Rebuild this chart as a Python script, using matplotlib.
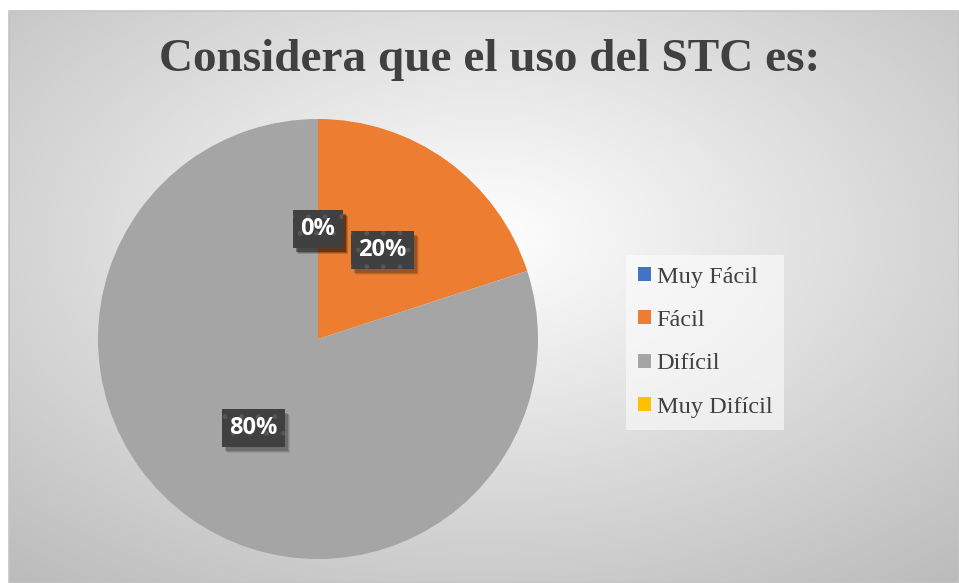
import numpy as np
import matplotlib.pyplot as plt
import matplotlib.transforms as mtransforms
from matplotlib.patches import Rectangle

categorias = ["Muy Fácil", "Fácil", "Difícil", "Muy Difícil"]
porcentajes = [0, 20, 80, 0]
colores = ["#4472C4", "#ED7D31", "#A5A5A5", "#FFC000"]
titulo = "Considera que el uso del STC es:"

W, H = 959, 583
fig = plt.figure(figsize=(W / 100, H / 100), dpi=100)

# fondo con degradado radial
bg = fig.add_axes([0, 0, 1, 1])
bg.set_xlim(0, W)
bg.set_ylim(H, 0)
bg.axis("off")
x0, x1, y0, y1 = 9, 959, 11, 583
xx, yy = np.meshgrid(np.linspace(x0, x1, 400), np.linspace(y0, y1, 250))
cx, cy = (x0 + x1) / 2, (y0 + y1) / 2 - 60
r = np.sqrt(((xx - cx) / ((x1 - x0) / 2)) ** 2 + ((yy - cy) / ((y1 - y0) / 2)) ** 2)
v = np.clip(1 - 0.17 * r, 0, 1)
bg.imshow(np.dstack([v, v, v]), extent=[x0, x1, y1, y0], aspect="auto", zorder=0)
bg.add_patch(Rectangle((x0, y0), x1 - x0, y1 - y0, fill=False, edgecolor="#c4c4c4", lw=1.2, zorder=1))

bg.text(490, 60, titulo, ha="center", va="center", fontsize=34, fontweight="bold",
        family="Liberation Serif", color="#404040")

# pastel
cxp, cyp, rad = 318, 339, 220
ax = fig.add_axes([(cxp - rad) / W, (H - cyp - rad) / H, 2 * rad / W, 2 * rad / H])
wedges, texts, autotexts = ax.pie(porcentajes, colors=colores, startangle=90, counterclock=False,
                                  autopct="%1.0f%%", pctdistance=0.5, radius=1.0)
ax.set_xlim(-1, 1)
ax.set_ylim(-1, 1)
ax.set_aspect("equal")
ax.axis("off")
for t in autotexts:
    t.set_color("white")
    t.set_fontsize(17)
    t.set_fontweight("bold")
    t.set_family("Open Sans")
    t.set_zorder(4)
    t.set_bbox(dict(boxstyle="square,pad=0.3", facecolor="#404040", edgecolor="#575757",
                    lw=0, hatch="."))

# sombras de las etiquetas (rectangulos desplazados)
fig.canvas.draw()
ren = fig.canvas.get_renderer()
for t in autotexts:
    bb = t.get_bbox_patch().get_window_extent(ren)
    for k, a in [(6, 0.08), (5, 0.12), (4, 0.18)]:
        ax.add_artist(Rectangle((bb.x0 + k - 1, bb.y0 - k), bb.width, bb.height,
                                transform=mtransforms.IdentityTransform(), facecolor="black",
                                alpha=a, lw=0, zorder=3, clip_on=False))

# leyenda
handles = [Rectangle((0, 0), 1, 1, facecolor=c, edgecolor="none") for c in colores]
leg = fig.legend(handles, categorias, loc="center left", bbox_to_anchor=(0.653, 0.413),
                 prop={"family": "Liberation Serif", "size": 17.5}, frameon=True, fancybox=False,
                 handlelength=0.5, handleheight=0.5, handletextpad=0.25, labelspacing=0.92,
                 borderpad=0.5, borderaxespad=0)
leg.get_frame().set_facecolor("white")
leg.get_frame().set_alpha(0.55)
leg.get_frame().set_edgecolor("none")
for t in leg.get_texts():
    t.set_color("#404040")

fig.savefig("out.png", dpi=100)
